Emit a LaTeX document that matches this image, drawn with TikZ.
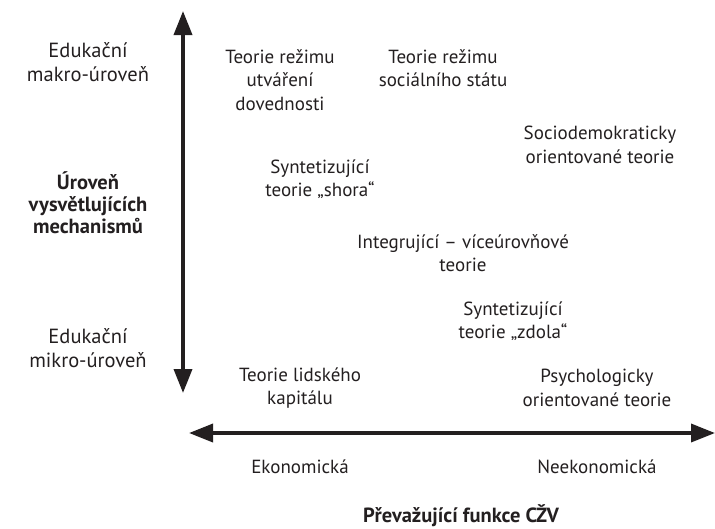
\documentclass[tikz,border=0pt]{standalone}
\usepackage{fontspec}
\setmainfont{PT Sans}
\usetikzlibrary{arrows.meta}
\definecolor{ink}{HTML}{231F20}
\tikzset{
  txt/.style={align=center, text=ink, font=\fontsize{19}{23.5}\selectfont, inner sep=0pt},
  leveltxt/.style={txt, font=\fontsize{20.5}{24}\selectfont},
  headtxt/.style={txt, font=\fontsize{20.5}{22}\selectfont\bfseries},
  axis/.style={draw=ink, line width=3.5pt, {Triangle[length=24pt,width=18pt]}-{Triangle[length=24pt,width=18pt]}}
}
\begin{document}
\begin{tikzpicture}[x=1pt, y=-1pt]
\useasboundingbox (0,0) rectangle (715,528);
% axes
\coordinate (ytop) at (183,11);
\coordinate (ybot) at (183,393);
\coordinate (xleft) at (189,433);
\coordinate (xright) at (715,433);
\draw[axis] (ybot) -- (ytop);
\draw[axis] (xleft) -- (xright);

% levels on the vertical axis
\node[leveltxt] (makro) at (88,62) {Edukační\\makro-úroveň};
\node[headtxt] (level) at (88,203) {Úroveň\\vysvětlujících\\mechanismů};
\node[leveltxt] (mikro) at (88,348) {Edukační\\mikro-úroveň};

% theories
\node[txt] (dovednosti) at (280,80) {Teorie režimu\\utváření\\dovednosti};
\node[txt] (statu) at (443,68) {Teorie režimu\\sociálního státu};
\node[txt] (socio) at (600,145) {Sociodemokraticky\\orientované teorie};
\node[txt] (shora) at (320,179) {Syntetizující\\teorie „shora“};
\node[txt] (integr) at (463,253) {Integrující – víceúrovňové\\teorie};
\node[txt] (zdola) at (513,321) {Syntetizující\\teorie „zdola“};
\node[txt] (kapital) at (300,388) {Teorie lidského\\kapitálu};
\node[txt] (psych) at (597,388) {Psychologicky\\orientované teorie};

% functions on the horizontal axis
\node[txt] (ekon) at (300,467) {Ekonomická};
\node[txt] (neekon) at (597,467) {Neekonomická};
\node[headtxt] (funkce) at (461,516) {Převažující funkce CŽV};
\end{tikzpicture}
\end{document}
